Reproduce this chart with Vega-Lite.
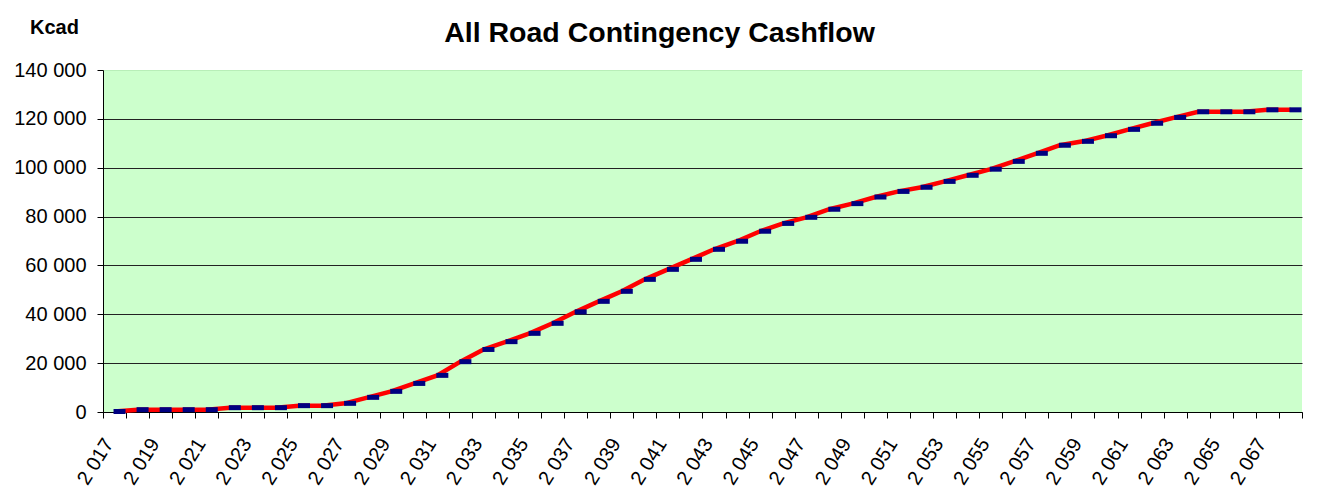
{
  "$schema": "https://vega.github.io/schema/vega-lite/v6.json",
  "width": 1199,
  "height": 342,
  "autosize": {"type": "none"},
  "padding": {"left": 103, "top": 70, "right": 21, "bottom": 89},
  "background": "white",
  "title": {
    "text": "All Road Contingency Cashflow",
    "font": "Liberation Sans",
    "fontSize": 28.5,
    "fontWeight": "bold",
    "color": "#000000",
    "anchor": "middle",
    "dx": -43,
    "offset": -30
  },
  "config": {
    "view": {"fill": "#CCFFCC", "stroke": null},
    "font": "Liberation Sans"
  },
  "data": {
    "values": [
      {"year": 2017, "value": 200},
      {"year": 2018, "value": 950},
      {"year": 2019, "value": 950},
      {"year": 2020, "value": 950},
      {"year": 2021, "value": 950},
      {"year": 2022, "value": 1770},
      {"year": 2023, "value": 1770},
      {"year": 2024, "value": 1770},
      {"year": 2025, "value": 2600},
      {"year": 2026, "value": 2600},
      {"year": 2027, "value": 3550},
      {"year": 2028, "value": 6000},
      {"year": 2029, "value": 8450},
      {"year": 2030, "value": 11700},
      {"year": 2031, "value": 15000},
      {"year": 2032, "value": 20600},
      {"year": 2033, "value": 25600},
      {"year": 2034, "value": 28800},
      {"year": 2035, "value": 32200},
      {"year": 2036, "value": 36300},
      {"year": 2037, "value": 41000},
      {"year": 2038, "value": 45300},
      {"year": 2039, "value": 49400},
      {"year": 2040, "value": 54300},
      {"year": 2041, "value": 58400},
      {"year": 2042, "value": 62500},
      {"year": 2043, "value": 66600},
      {"year": 2044, "value": 69900},
      {"year": 2045, "value": 74000},
      {"year": 2046, "value": 77200},
      {"year": 2047, "value": 79700},
      {"year": 2048, "value": 83000},
      {"year": 2049, "value": 85300},
      {"year": 2050, "value": 88000},
      {"year": 2051, "value": 90300},
      {"year": 2052, "value": 92000},
      {"year": 2053, "value": 94400},
      {"year": 2054, "value": 96900},
      {"year": 2055, "value": 99400},
      {"year": 2056, "value": 102600},
      {"year": 2057, "value": 105900},
      {"year": 2058, "value": 109200},
      {"year": 2059, "value": 110800},
      {"year": 2060, "value": 113100},
      {"year": 2061, "value": 115700},
      {"year": 2062, "value": 118200},
      {"year": 2063, "value": 120600},
      {"year": 2064, "value": 122900},
      {"year": 2065, "value": 122900},
      {"year": 2066, "value": 122900},
      {"year": 2067, "value": 123700},
      {"year": 2068, "value": 123700}
    ]
  },
  "encoding": {
    "x": {
      "field": "year",
      "type": "ordinal",
      "bandPosition": 0.5,
      "scale": {"type": "band", "paddingInner": 0, "paddingOuter": 0},
      "axis": {
        "title": null,
        "tickBand": "extent",
        "labelAngle": -58,
        "labelAlign": "right",
        "labelBaseline": "middle",
        "labelFontSize": 20,
        "labelColor": "#000000",
        "labelOverlap": false,
        "labelPadding": 22,
        "labelOffset": -6,
        "labelExpr": "datum.value % 2 == 1 ? substring(datum.label, 0, 1) + ' ' + substring(datum.label, 1) : ''",
        "tickSize": 6,
        "tickColor": "#000000",
        "domainColor": "#000000",
        "grid": false
      }
    },
    "y": {
      "field": "value",
      "type": "quantitative",
      "scale": {"domain": [0, 140000], "nice": false},
      "axis": {
        "title": "Kcad",
        "titleAngle": 0,
        "titleX": -49,
        "titleY": -37,
        "titleAlign": "center",
        "titleBaseline": "alphabetic",
        "titleFontSize": 20,
        "titleFontWeight": "bold",
        "titleColor": "#000000",
        "values": [0, 20000, 40000, 60000, 80000, 100000, 120000, 140000],
        "labelFontSize": 20,
        "labelColor": "#000000",
        "labelPadding": 11,
        "labelExpr": "replace(format(datum.value, ','), ',', ' ')",
        "tickSize": 6,
        "tickColor": "#000000",
        "domainColor": "#000000",
        "grid": true,
        "gridColor": {"condition": {"test": "datum.value >= 140000", "value": "#B8EEB8"}, "value": "#222222"},
        "gridOpacity": 1
      }
    }
  },
  "layer": [
    {"mark": {"type": "line", "color": "#FF0000", "strokeWidth": 4.5}},
    {"mark": {"type": "tick", "color": "#000080", "size": 12, "thickness": 5, "xOffset": 5, "opacity": 1}}
  ]
}
